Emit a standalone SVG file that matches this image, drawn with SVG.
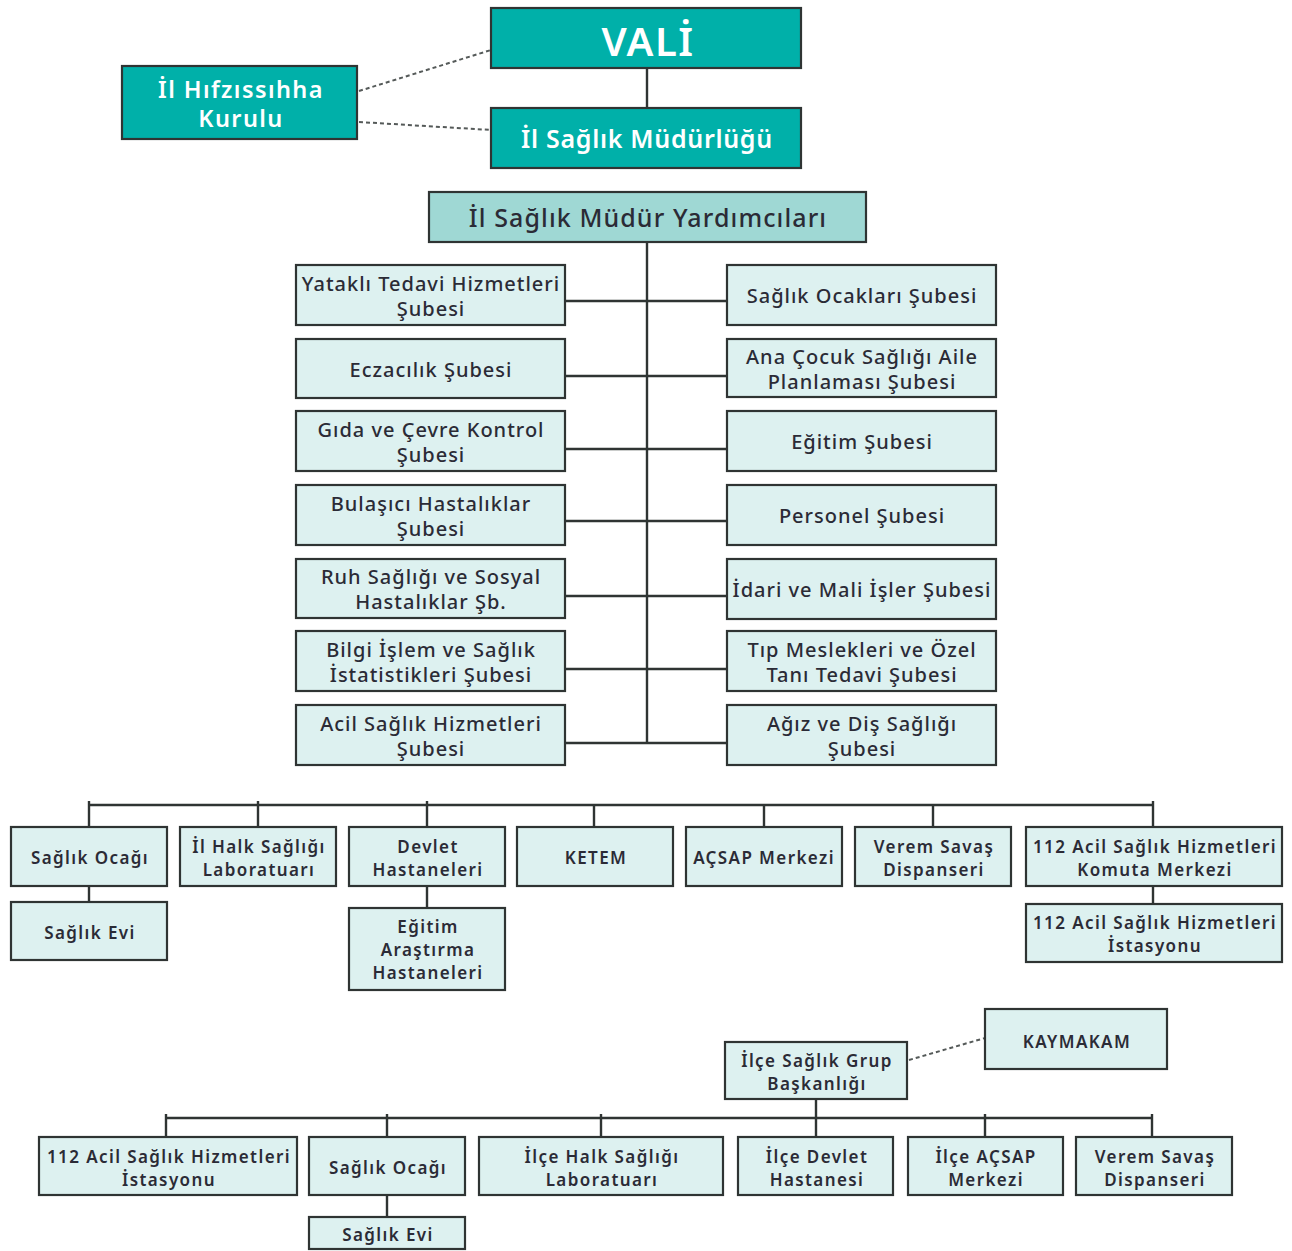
<svg xmlns="http://www.w3.org/2000/svg" width="1292" height="1251" viewBox="0 0 1292 1251">
  <style>
    .teal { fill: #00B0A9; stroke: #2f3433; stroke-width: 2.2; }
    .head { fill: #9FD8D4; stroke: #2f3433; stroke-width: 2.2; }
    .box { fill: #DDF1F0; stroke: #2f3433; stroke-width: 2.2; }
    .wt { fill: #ffffff; font-family: "Noto Sans", "Open Sans", sans-serif; font-weight: 600; text-anchor: middle; dominant-baseline: central; }
    .dk { fill: #2b2b36; font-family: "Noto Sans", "Open Sans", sans-serif; font-weight: 500; text-anchor: middle; dominant-baseline: central; }
    .br { font-size: 20px; letter-spacing: 1px; }
    .sm { font-size: 17px; letter-spacing: 1.4px; font-weight: 600; }
    .ln { stroke: #2f3433; stroke-width: 2.4; fill: none; }
    .dash { stroke: #555a59; stroke-width: 2; stroke-dasharray: 4 3; fill: none; }
  </style>

  <!-- connectors -->
  <g id="connectors">
    <!-- provincial top -->
    <line class="ln" x1="647" y1="68" x2="647" y2="108"/>
    <line class="dash" x1="359" y1="91" x2="491" y2="50"/>
    <line class="dash" x1="359" y1="122" x2="491" y2="130"/>
    <!-- branch trunk -->
    <line class="ln" x1="647" y1="242" x2="647" y2="743"/>
    <line class="ln" x1="565" y1="301" x2="727" y2="301"/>
    <line class="ln" x1="565" y1="376" x2="727" y2="376"/>
    <line class="ln" x1="565" y1="449" x2="727" y2="449"/>
    <line class="ln" x1="565" y1="521" x2="727" y2="521"/>
    <line class="ln" x1="565" y1="596" x2="727" y2="596"/>
    <line class="ln" x1="565" y1="669" x2="727" y2="669"/>
    <line class="ln" x1="565" y1="743" x2="727" y2="743"/>
    <!-- provincial units bus -->
    <line class="ln" x1="89" y1="805" x2="1153" y2="805"/>
    <line class="ln" x1="89" y1="801" x2="89" y2="827"/>
    <line class="ln" x1="258" y1="801" x2="258" y2="827"/>
    <line class="ln" x1="427" y1="801" x2="427" y2="827"/>
    <line class="ln" x1="594" y1="805" x2="594" y2="827"/>
    <line class="ln" x1="764" y1="805" x2="764" y2="827"/>
    <line class="ln" x1="933" y1="805" x2="933" y2="827"/>
    <line class="ln" x1="1153" y1="801" x2="1153" y2="827"/>
    <line class="ln" x1="89" y1="886" x2="89" y2="902"/>
    <line class="ln" x1="427" y1="886" x2="427" y2="908"/>
    <line class="ln" x1="1153" y1="886" x2="1153" y2="904"/>
    <!-- district -->
    <line class="dash" x1="909" y1="1060" x2="985" y2="1038"/>
    <line class="ln" x1="816" y1="1099" x2="816" y2="1137"/>
    <line class="ln" x1="166" y1="1118" x2="1152" y2="1118"/>
    <line class="ln" x1="166" y1="1114" x2="166" y2="1137"/>
    <line class="ln" x1="387" y1="1114" x2="387" y2="1137"/>
    <line class="ln" x1="601" y1="1114" x2="601" y2="1137"/>
    <line class="ln" x1="985" y1="1114" x2="985" y2="1137"/>
    <line class="ln" x1="1152" y1="1114" x2="1152" y2="1137"/>
    <line class="ln" x1="387" y1="1195" x2="387" y2="1217"/>
  </g>

  <!-- provincial top -->
  <g id="vali">
    <rect class="teal" x="491" y="8" width="310" height="60"/>
    <text class="wt" x="648" y="40" font-size="40" font-weight="700" letter-spacing="1.5">VALİ</text>
  </g>
  <g id="hifzissihha">
    <rect class="teal" x="122" y="66" width="235" height="73"/>
    <text class="wt" x="241" y="89" font-size="23.5" letter-spacing="1.4">İl Hıfzıssıhha</text>
    <text class="wt" x="241" y="118" font-size="23.5" letter-spacing="1.4">Kurulu</text>
  </g>
  <g id="mudurluk">
    <rect class="teal" x="491" y="108" width="310" height="60"/>
    <text class="wt" x="647" y="138" font-size="25" letter-spacing="0.7">İl Sağlık Müdürlüğü</text>
  </g>
  <g id="yardimcilar">
    <rect class="head" x="429" y="192" width="437" height="50"/>
    <text class="dk" x="648" y="217" font-size="25" letter-spacing="1.1">İl Sağlık Müdür Yardımcıları</text>
  </g>

  <!-- left branches -->
  <g id="yatakli">
    <rect class="box" x="296" y="265" width="269" height="60"/>
    <text class="dk br" x="431" y="283">Yataklı Tedavi Hizmetleri</text>
    <text class="dk br" x="431" y="308">Şubesi</text>
  </g>
  <g id="eczacilik">
    <rect class="box" x="296" y="339" width="269" height="59"/>
    <text class="dk br" x="431" y="369">Eczacılık Şubesi</text>
  </g>
  <g id="gida">
    <rect class="box" x="296" y="411" width="269" height="60"/>
    <text class="dk br" x="431" y="429">Gıda ve Çevre Kontrol</text>
    <text class="dk br" x="431" y="454">Şubesi</text>
  </g>
  <g id="bulasici">
    <rect class="box" x="296" y="485" width="269" height="60"/>
    <text class="dk br" x="431" y="503">Bulaşıcı Hastalıklar</text>
    <text class="dk br" x="431" y="528">Şubesi</text>
  </g>
  <g id="ruh">
    <rect class="box" x="296" y="559" width="269" height="59"/>
    <text class="dk br" x="431" y="576">Ruh Sağlığı ve Sosyal</text>
    <text class="dk br" x="431" y="601">Hastalıklar Şb.</text>
  </g>
  <g id="bilgi">
    <rect class="box" x="296" y="631" width="269" height="60"/>
    <text class="dk br" x="431" y="649">Bilgi İşlem ve Sağlık</text>
    <text class="dk br" x="431" y="674">İstatistikleri Şubesi</text>
  </g>
  <g id="acil">
    <rect class="box" x="296" y="705" width="269" height="60"/>
    <text class="dk br" x="431" y="723">Acil Sağlık Hizmetleri</text>
    <text class="dk br" x="431" y="748">Şubesi</text>
  </g>

  <!-- right branches -->
  <g id="ocaklar">
    <rect class="box" x="727" y="265" width="269" height="60"/>
    <text class="dk br" x="862" y="295">Sağlık Ocakları Şubesi</text>
  </g>
  <g id="anacocuk">
    <rect class="box" x="727" y="339" width="269" height="58"/>
    <text class="dk br" x="862" y="356">Ana Çocuk Sağlığı Aile</text>
    <text class="dk br" x="862" y="381">Planlaması Şubesi</text>
  </g>
  <g id="egitim">
    <rect class="box" x="727" y="411" width="269" height="60"/>
    <text class="dk br" x="862" y="441">Eğitim Şubesi</text>
  </g>
  <g id="personel">
    <rect class="box" x="727" y="485" width="269" height="60"/>
    <text class="dk br" x="862" y="515">Personel Şubesi</text>
  </g>
  <g id="idari">
    <rect class="box" x="727" y="559" width="269" height="60"/>
    <text class="dk br" x="862" y="589" letter-spacing="0.4">İdari ve Mali İşler Şubesi</text>
  </g>
  <g id="tip">
    <rect class="box" x="727" y="631" width="269" height="60"/>
    <text class="dk br" x="862" y="649">Tıp Meslekleri ve Özel</text>
    <text class="dk br" x="862" y="674">Tanı Tedavi Şubesi</text>
  </g>
  <g id="agiz">
    <rect class="box" x="727" y="705" width="269" height="60"/>
    <text class="dk br" x="862" y="723">Ağız ve Diş Sağlığı</text>
    <text class="dk br" x="862" y="748">Şubesi</text>
  </g>

  <!-- provincial units -->
  <g id="saglik-ocagi">
    <rect class="box" x="11" y="827" width="156" height="59"/>
    <text class="dk sm" x="90" y="857">Sağlık Ocağı</text>
  </g>
  <g id="saglik-evi">
    <rect class="box" x="11" y="902" width="156" height="58"/>
    <text class="dk sm" x="90" y="932">Sağlık Evi</text>
  </g>
  <g id="halk-lab">
    <rect class="box" x="180" y="827" width="156" height="59"/>
    <text class="dk sm" x="259" y="846" letter-spacing="0.6">İl Halk Sağlığı</text>
    <text class="dk sm" x="259" y="869">Laboratuarı</text>
  </g>
  <g id="devlet">
    <rect class="box" x="349" y="827" width="156" height="59"/>
    <text class="dk sm" x="428" y="846">Devlet</text>
    <text class="dk sm" x="428" y="869">Hastaneleri</text>
  </g>
  <g id="egitim-arastirma">
    <rect class="box" x="349" y="908" width="156" height="82"/>
    <text class="dk sm" x="428" y="926">Eğitim</text>
    <text class="dk sm" x="428" y="949">Araştırma</text>
    <text class="dk sm" x="428" y="972">Hastaneleri</text>
  </g>
  <g id="ketem">
    <rect class="box" x="517" y="827" width="156" height="59"/>
    <text class="dk sm" x="596" y="857">KETEM</text>
  </g>
  <g id="acsap">
    <rect class="box" x="686" y="827" width="156" height="59"/>
    <text class="dk sm" x="764" y="857" letter-spacing="0.4">AÇSAP Merkezi</text>
  </g>
  <g id="verem">
    <rect class="box" x="855" y="827" width="156" height="59"/>
    <text class="dk sm" x="934" y="846">Verem Savaş</text>
    <text class="dk sm" x="934" y="869">Dispanseri</text>
  </g>
  <g id="komuta">
    <rect class="box" x="1026" y="827" width="256" height="59"/>
    <text class="dk sm" x="1155" y="846">112 Acil Sağlık Hizmetleri</text>
    <text class="dk sm" x="1155" y="869">Komuta Merkezi</text>
  </g>
  <g id="istasyon">
    <rect class="box" x="1026" y="904" width="256" height="58"/>
    <text class="dk sm" x="1155" y="922">112 Acil Sağlık Hizmetleri</text>
    <text class="dk sm" x="1155" y="945">İstasyonu</text>
  </g>

  <!-- district -->
  <g id="kaymakam">
    <rect class="box" x="985" y="1009" width="182" height="60"/>
    <text class="dk sm" x="1077" y="1041">KAYMAKAM</text>
  </g>
  <g id="grup-baskanligi">
    <rect class="box" x="725" y="1042" width="182" height="57"/>
    <text class="dk sm" x="817" y="1060">İlçe Sağlık Grup</text>
    <text class="dk sm" x="817" y="1083">Başkanlığı</text>
  </g>
  <g id="ilce-istasyon">
    <rect class="box" x="39" y="1137" width="258" height="58"/>
    <text class="dk sm" x="169" y="1156">112 Acil Sağlık Hizmetleri</text>
    <text class="dk sm" x="169" y="1179">İstasyonu</text>
  </g>
  <g id="ilce-ocak">
    <rect class="box" x="309" y="1137" width="156" height="58"/>
    <text class="dk sm" x="388" y="1167">Sağlık Ocağı</text>
  </g>
  <g id="ilce-ev">
    <rect class="box" x="309" y="1217" width="156" height="32"/>
    <text class="dk sm" x="388" y="1234">Sağlık Evi</text>
  </g>
  <g id="ilce-lab">
    <rect class="box" x="479" y="1137" width="244" height="58"/>
    <text class="dk sm" x="602" y="1156">İlçe Halk Sağlığı</text>
    <text class="dk sm" x="602" y="1179">Laboratuarı</text>
  </g>
  <g id="ilce-devlet">
    <rect class="box" x="738" y="1137" width="155" height="58"/>
    <text class="dk sm" x="817" y="1156">İlçe Devlet</text>
    <text class="dk sm" x="817" y="1179">Hastanesi</text>
  </g>
  <g id="ilce-acsap">
    <rect class="box" x="908" y="1137" width="155" height="58"/>
    <text class="dk sm" x="986" y="1156">İlçe AÇSAP</text>
    <text class="dk sm" x="986" y="1179">Merkezi</text>
  </g>
  <g id="ilce-verem">
    <rect class="box" x="1076" y="1137" width="156" height="58"/>
    <text class="dk sm" x="1155" y="1156">Verem Savaş</text>
    <text class="dk sm" x="1155" y="1179">Dispanseri</text>
  </g>
</svg>
